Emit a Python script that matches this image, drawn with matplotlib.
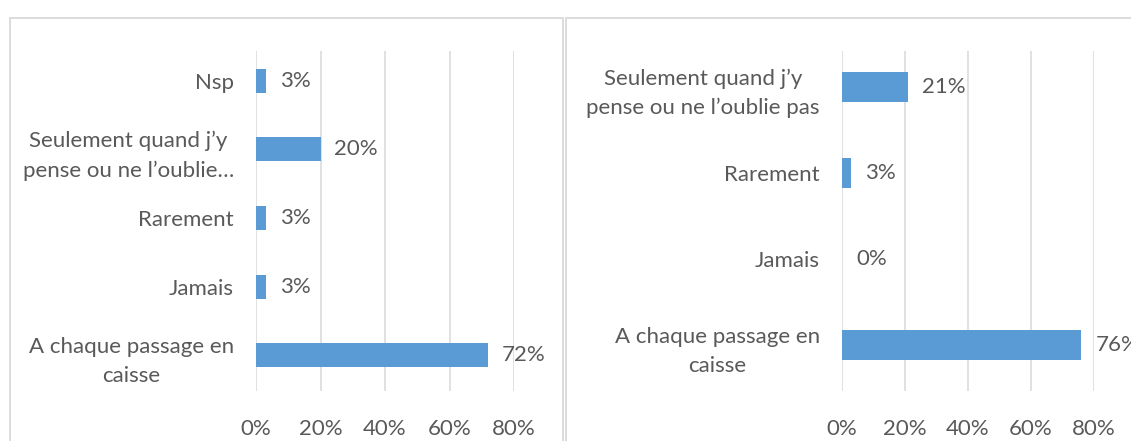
import matplotlib
matplotlib.use("Agg")
import matplotlib.pyplot as plt
from matplotlib.patches import Rectangle
from matplotlib.ticker import FuncFormatter

# Data (bottom to top)
left_categories = ["A chaque passage en\ncaisse", "Jamais", "Rarement",
                   "Seulement quand j\u2019y\npense ou ne l\u2019oublie\u2026", "Nsp"]
left_values = [72, 3, 3, 20, 3]

right_categories = ["A chaque passage en\ncaisse", "Jamais", "Rarement",
                    "Seulement quand j\u2019y\npense ou ne l\u2019oublie pas"]
right_values = [76, 0, 3, 21]

x_ticks = [0, 20, 40, 60, 80]

BAR = "#5B9BD5"
TXT = "#595959"
GRID = "#D9D9D9"
FONT = "Lato"
FS = 16

W, H = 1131, 441
fig = plt.figure(figsize=(W / 100, H / 100), dpi=100)

# panel borders
fig.patches.append(Rectangle((9.6 / W, -0.1), (563 - 9.6) / W, 1.1 - 17.6 / H,
                             transform=fig.transFigure, fill=False,
                             edgecolor=GRID, linewidth=1.3))
fig.patches.append(Rectangle((566 / W, -0.1), 0.5, 1.1 - 17.6 / H,
                             transform=fig.transFigure, fill=False,
                             edgecolor=GRID, linewidth=1.3))


def panel(x0, x1, cats, vals, ylim):
    ax = fig.add_axes([x0 / W, (H - 391) / H, (x1 - x0) / W, 340 / H])
    ypos = list(range(len(cats)))
    ax.barh(ypos, vals, height=0.35, color=BAR, zorder=3)
    ax.set_xlim(0, 80)
    ax.set_ylim(*ylim)
    ax.set_xticks(x_ticks)
    ax.xaxis.set_major_formatter(FuncFormatter(lambda v, p: f"{int(v)}%"))
    ax.set_yticks(ypos)
    ax.set_yticklabels(cats, fontfamily=FONT, fontsize=FS, color=TXT,
                       multialignment="center", linespacing=1.55)
    for lab in ax.get_xticklabels():
        lab.set_fontfamily(FONT)
        lab.set_fontsize(FS)
        lab.set_color(TXT)
    ax.tick_params(axis="x", length=0, pad=20)
    ax.tick_params(axis="y", length=0, pad=16)
    for s in ax.spines.values():
        s.set_visible(False)
    ax.grid(axis="x", color=GRID, linewidth=1.1, zorder=0)
    ax.set_axisbelow(True)
    ax.patch.set_alpha(0)
    for y, v in zip(ypos, vals):
        ax.annotate(f"{v}%", xy=(v, y), xytext=(10, 0), textcoords="offset points",
                    ha="left", va="center", fontfamily=FONT, fontsize=FS,
                    color=TXT, annotation_clip=False)
    return ax


panel(256, 514, left_categories, left_values, (-0.52, 4.43))
panel(842, 1094, right_categories, right_values, (-0.535, 3.42))

fig.savefig("out.png", dpi=100, facecolor="white")
